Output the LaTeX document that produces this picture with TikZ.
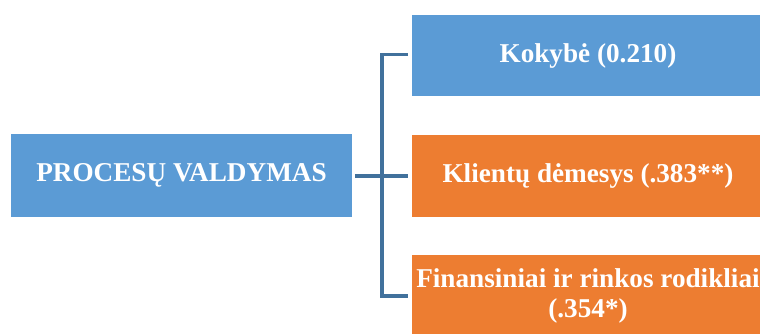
\documentclass[tikz,border=0pt]{standalone}
\usepackage{fontspec}
\setmainfont{Liberation Serif}
\definecolor{boxblue}{HTML}{5B9BD5}
\definecolor{boxorange}{HTML}{ED7D31}
\definecolor{linkblue}{HTML}{41719C}
\tikzset{
    bluebox/.style={fill=boxblue, text=white, font=\bfseries\fontsize{20.4}{23}\selectfont, inner sep=0pt, align=center},
    orangebox/.style={bluebox, fill=boxorange},
    link/.style={draw=linkblue, line width=2.4pt}
}
\begin{document}
\begin{tikzpicture}[x=0.75pt,y=-0.75pt]
        \useasboundingbox (0,0) rectangle (760,333);
        \clip (0,0) rectangle (760,333);
        \node[bluebox, minimum width=341*0.75pt, minimum height=83*0.75pt] (proc) at (181.5,175.5) {PROCESŲ VALDYMAS};
        \node[bluebox, minimum width=352*0.75pt, minimum height=81*0.75pt] (kok) at (588,55.5) {Kokybė (0.210)};
        \node[orangebox, minimum width=352*0.75pt, minimum height=82*0.75pt] (kli) at (588,176) {Klientų dėmesys (.383**)};
        \node[orangebox, minimum width=352*0.75pt, minimum height=82*0.75pt] (fin) at (588,296) {Finansiniai ir rinkos rodikliai\\(.354*)};
        \coordinate (split) at (382,176);
        \coordinate (top) at (382,54.5);
        \coordinate (bot) at (382,296);
        \draw[link] (proc.east |- split) ++(3,0) -- (split) -- ++(26,0);
        \draw[link] (top) ++(26,0) -- (top) -- (bot) -- ++(26,0);
    \end{tikzpicture}
\end{document}
